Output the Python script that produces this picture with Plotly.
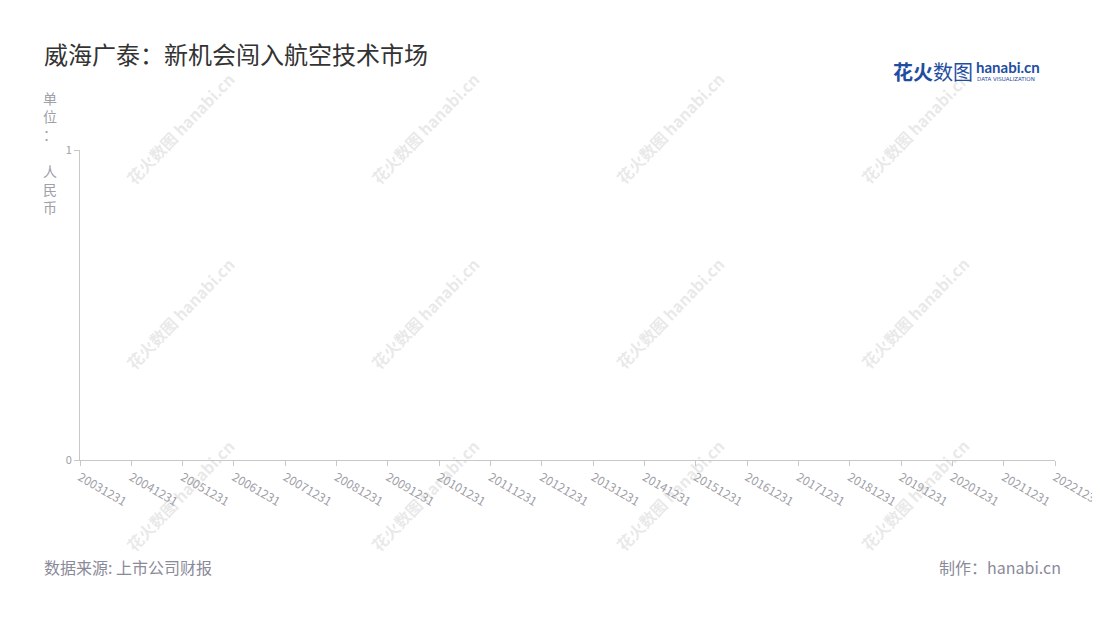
import plotly.graph_objects as go

# 报告期（X轴类目）
report_dates = ['20031231', '20041231', '20051231', '20061231', '20071231',
                '20081231', '20091231', '20101231', '20111231', '20121231',
                '20131231', '20141231', '20151231', '20161231', '20171231',
                '20181231', '20191231', '20201231', '20211231', '20221231']
# 原图没有画出任何数值
values = [None, None, None, None, None, None, None, None, None, None,
          None, None, None, None, None, None, None, None, None, None]
y_ticks = [0, 1]

title_text = '威海广泰：新机会闯入航空技术市场'
unit_text = '单位：人民币'
source_text = '数据来源: 上市公司财报'
credit_text = '制作：hanabi.cn'

FONT = 'Noto Sans CJK SC'

fig = go.Figure()
fig.add_trace(go.Scatter(x=report_dates, y=values, mode='lines',
                         line=dict(color='#5b8ff9'), showlegend=False,
                         hoverinfo='skip'))

fig.update_layout(
    width=1092, height=612,
    margin=dict(l=72, r=45, t=142, b=160),
    paper_bgcolor='white', plot_bgcolor='white',
    font=dict(family=FONT, color='#999999'),
    xaxis=dict(type='category', categoryorder='array', categoryarray=report_dates,
               range=[0, len(report_dates) - 1], showgrid=False, automargin=False,
               showline=True, linecolor='#c8c8c8', linewidth=1,
               ticks='outside', ticklen=5, tickcolor='#c8c8c8',
               tickangle=30, tickfont=dict(size=12, color='#a0a0a8')),
    yaxis=dict(range=[0, 1], tickvals=y_ticks, showgrid=True, gridcolor='#e0e0e0',
               griddash='dash', zeroline=False, automargin=False,
               showline=True, linecolor='#c8c8c8', linewidth=1,
               ticks='outside', ticklen=5, tickcolor='#c8c8c8',
               tickfont=dict(size=11, color='#a0a0a8')),
)

# 水印
for wx in [0.103, 0.354, 0.605, 0.856]:
    for wy in [1.071, 0.474, -0.113]:
        fig.add_annotation(text='<b>花火数图 hanabi.cn</b>', xref='paper', yref='paper',
                           x=wx, y=wy, xanchor='center', yanchor='middle',
                           showarrow=False, textangle=-46,
                           font=dict(size=16, color='rgba(180,180,180,0.3)', family=FONT))

# 标题
fig.add_annotation(text=title_text, xref='paper', yref='paper', x=-0.039, y=1.31,
                   xanchor='left', yanchor='middle', showarrow=False,
                   font=dict(size=24, color='#333333', family=FONT))

# 单位（竖排）
unit_chars = list(unit_text)
unit_chars.insert(3, ' ')
fig.add_annotation(text='<br>'.join(unit_chars), xref='paper', yref='paper',
                   x=-0.031, y=1.205, xanchor='center', yanchor='top', showarrow=False,
                   font=dict(size=14, color='#a0a0a8', family=FONT))

# 右上角 logo
fig.add_annotation(text='<b>花火</b>数图', xref='paper', yref='paper', x=0.832, y=1.252,
                   xanchor='left', yanchor='middle', showarrow=False,
                   font=dict(size=20, color='#1f4ea1', family=FONT))
fig.add_annotation(text='<b>hanabi.cn</b>', xref='paper', yref='paper', x=0.917, y=1.268,
                   xanchor='left', yanchor='middle', showarrow=False,
                   font=dict(size=15, color='#1f4ea1', family='Lato'))
fig.add_annotation(text='DATA VISUALIZATION', xref='paper', yref='paper', x=0.918, y=1.229,
                   xanchor='left', yanchor='middle', showarrow=False,
                   font=dict(size=5.5, color='#1f4ea1', family='DejaVu Sans'))

# 底部说明
fig.add_annotation(text=source_text, xref='paper', yref='paper', x=-0.039, y=-0.345,
                   xanchor='left', yanchor='middle', showarrow=False,
                   font=dict(size=16, color='#8a8a99', family=FONT))
fig.add_annotation(text=credit_text, xref='paper', yref='paper', x=1.008, y=-0.345,
                   xanchor='right', yanchor='middle', showarrow=False,
                   font=dict(size=16, color='#8a8a99', family=FONT))

fig.write_html('out.html')
